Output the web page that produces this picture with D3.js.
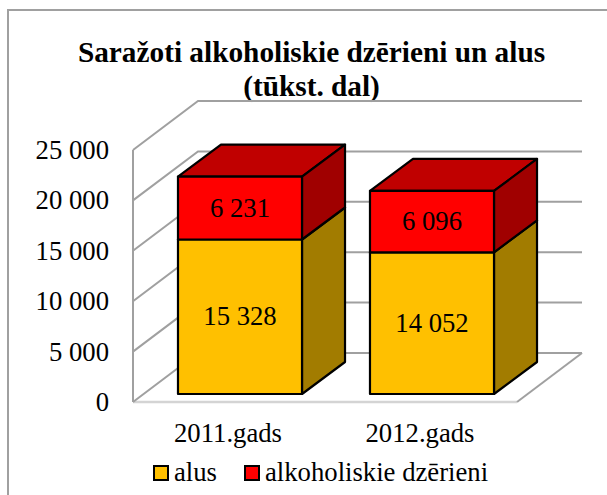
<!DOCTYPE html>
<html>
<head>
<meta charset="utf-8">
<script src="https://cdn.jsdelivr.net/npm/d3@7"></script>
<style>
body { margin: 0; background: #fff; }
svg { display: block; font-family: "Liberation Serif", serif; fill: #000; }
</style>
</head>
<body>
<svg width="607" height="495"></svg>
<script>
const categories = ["2011.gads", "2012.gads"];
const alus = [15328, 14052];
const alkohols = [6231, 6096];
const tickValues = [0, 5000, 10000, 15000, 20000, 25000];
const titleLines = ["Saražoti alkoholiskie dzērieni un alus", "(tūkst. dal)"];
const seriesNames = ["alus", "alkoholiskie dzērieni"];

const svg = d3.select("svg");

// 3d offsets: wall is depth of the whole box, bars sit a bit inside it
const wallDx = 65, wallDy = -49;
const insetDx = 11, insetDy = -8;
const barDx = 43, barDy = -32;
const fontSize = 26.7;

const x = d3.scaleBand()
    .domain(categories)
    .range([133, 517])
    .paddingInner(0.354)
    .paddingOuter(0.177);

const y = d3.scaleLinear()
    .domain([0, 25000])
    .range([402, 150]);

const fmt = d => String(d).replace(/\B(?=(\d{3})+$)/g, " ");

// outer frame, runs off the right and bottom of the picture
svg.append("path")
    .attr("d", "M8,495V10H607")
    .attr("fill", "none")
    .attr("stroke", "#a0a0a0")
    .attr("stroke-width", 2);

// title
svg.selectAll(".title")
    .data(titleLines)
    .enter()
    .append("text")
    .attr("class", "title")
    .attr("x", 311.5)
    .attr("y", (d, i) => 62 + i * 34)
    .attr("text-anchor", "middle")
    .attr("font-size", 29.3)
    .attr("font-weight", "bold")
    .text(d => d);

// floor
const floorRight = x.range()[1];
svg.append("path")
    .attr("d", `M133,${y(0)}H${floorRight}`)
    .attr("stroke", "#d4d4d4")
    .attr("stroke-width", 2.5);
svg.append("path")
    .attr("d", `M${floorRight},${y(0)}l${wallDx},${wallDy}`)
    .attr("stroke", "#a0a0a0")
    .attr("stroke-width", 2)
    .attr("fill", "none");

// gridlines along side wall and back wall
svg.selectAll(".grid")
    .data(tickValues)
    .enter()
    .append("path")
    .attr("class", "grid")
    .attr("d", d => `M133,${y(d)}l${wallDx},${wallDy}H${floorRight + wallDx}`)
    .attr("fill", "none")
    .attr("stroke", "#a0a0a0")
    .attr("stroke-width", 2);

svg.append("path")
    .attr("d", `M133,${y(0)}V${y(25000)}`)
    .attr("stroke", "#a0a0a0")
    .attr("stroke-width", 2);

// value axis
const yAxis = svg.append("g")
    .attr("transform", "translate(133,0)")
    .call(d3.axisLeft(y).tickValues(tickValues).tickFormat(fmt).tickSize(0).tickPadding(24));
yAxis.select(".domain").remove();
yAxis.selectAll("text")
    .attr("font-family", "Liberation Serif")
    .attr("font-size", fontSize)
    .attr("fill", "#000");

// draws one box of the stack
function drawBox(g, x0, w, top, bottom, front, topFace, side) {
    const s = { stroke: "#000", "stroke-width": 2.2, "stroke-linejoin": "round" };
    const add = (d, fill) => {
        const p = g.append("path").attr("d", d).attr("fill", fill);
        Object.keys(s).forEach(k => p.attr(k, s[k]));
    };
    add(`M${x0},${top}h${w}l${barDx},${barDy}h${-w}Z`, topFace);
    add(`M${x0 + w},${top}V${bottom}l${barDx},${barDy}V${top + barDy}Z`, side);
    add(`M${x0},${top}h${w}V${bottom}H${x0}Z`, front);
}

const bars = svg.append("g").attr("transform", `translate(${insetDx},${insetDy})`);
categories.forEach((c, i) => {
    const g = bars.append("g");
    const total = alus[i] + alkohols[i];
    drawBox(g, x(c), x.bandwidth(), y(alus[i]), y(0), "#ffc000", "#c9a000", "#a27c00");
    drawBox(g, x(c), x.bandwidth(), y(total), y(alus[i]), "#ff0000", "#c00000", "#a00000");

    const cx = x(c) + x.bandwidth() / 2;
    g.append("text")
        .attr("x", cx)
        .attr("y", (y(alus[i]) + y(0)) / 2)
        .attr("dy", "0.32em")
        .attr("text-anchor", "middle")
        .attr("font-size", fontSize)
        .text(fmt(alus[i]));
    g.append("text")
        .attr("x", cx)
        .attr("y", (y(total) + y(alus[i])) / 2)
        .attr("dy", "0.32em")
        .attr("text-anchor", "middle")
        .attr("font-size", fontSize)
        .text(fmt(alkohols[i]));
});

// category labels
svg.selectAll(".cat")
    .data(categories)
    .enter()
    .append("text")
    .attr("class", "cat")
    .attr("x", d => x(d) + x.bandwidth() / 2 - 1)
    .attr("y", 442)
    .attr("text-anchor", "middle")
    .attr("font-size", fontSize)
    .text(d => d);

// legend
const legendX = [154, 245];
const legendColors = ["#ffc000", "#ff0000"];
const legend = svg.selectAll(".legend")
    .data(seriesNames)
    .enter()
    .append("g")
    .attr("class", "legend")
    .attr("transform", (d, i) => `translate(${legendX[i]},466)`);
legend.append("rect")
    .attr("width", 14)
    .attr("height", 14)
    .attr("fill", (d, i) => legendColors[i])
    .attr("stroke", "#000")
    .attr("stroke-width", 2);
legend.append("text")
    .attr("x", 20)
    .attr("y", 14.5)
    .attr("font-size", fontSize)
    .text(d => d);
</script>
</body>
</html>
